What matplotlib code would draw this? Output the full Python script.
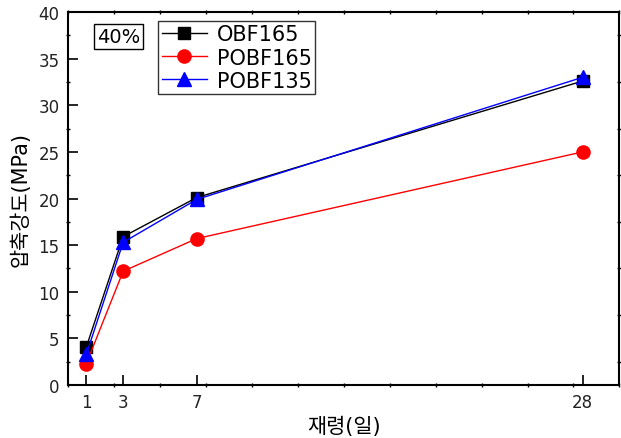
import matplotlib
matplotlib.use('Agg')
import matplotlib.pyplot as plt
from matplotlib.ticker import MultipleLocator

plt.rcParams['font.family'] = ['DejaVu Sans', 'Noto Sans CJK KR']

days = [1, 3, 7, 28]
obf165 = [4.1, 15.9, 20.1, 32.6]
pobf165 = [2.3, 12.2, 15.7, 25.0]
pobf135 = [3.3, 15.3, 19.9, 33.0]

fig = plt.figure(figsize=(6.21, 4.39), dpi=100)
ax = fig.add_axes([0.1095, 0.1207, 0.888, 0.8497])

ax.plot(days, obf165, '-s', color='black', lw=1.0, ms=8, label='OBF165')
ax.plot(days, pobf165, '-o', color='red', lw=1.0, ms=9.5, label='POBF165')
ax.plot(days, pobf135, '-^', color='blue', lw=1.0, ms=9.5, label='POBF135')

ax.set_xlim(0, 30)
ax.set_ylim(0, 40)
ax.set_xticks(days)
ax.xaxis.set_minor_locator(MultipleLocator(2.5))
ax.yaxis.set_major_locator(MultipleLocator(5))
ax.yaxis.set_minor_locator(MultipleLocator(2.5))
ax.tick_params(axis='both', which='both', labelsize=12, width=1.2,
               top=True, right=True, labelcolor='#222222')
ax.tick_params(axis='both', which='major', length=7, direction='in', pad=6)
ax.tick_params(axis='both', which='minor', length=3, width=1.0, direction='inout')
ax.tick_params(axis='x', which='major', top=False)
ax.tick_params(axis='y', which='major', right=False)
for s in ax.spines.values():
    s.set_linewidth(1.5)

ax.set_xlabel('재령(일)', fontsize=15, labelpad=3)
ax.set_ylabel('압축강도(MPa)', fontsize=15, labelpad=6)

ax.text(0.053, 0.96, '40%', transform=ax.transAxes, fontsize=14, va='top', ha='left',
        bbox=dict(boxstyle='square,pad=0.15', fc='white', ec='black', lw=1))

leg = ax.legend(loc='upper left', bbox_to_anchor=(0.164, 0.975), fontsize=15, frameon=True,
                fancybox=False, edgecolor='black', handlelength=2.2, borderpad=0.15,
                labelspacing=0.15, handletextpad=0.45, borderaxespad=0)
leg.get_frame().set_linewidth(1)

fig.savefig('out.png', dpi=100, facecolor='white')
